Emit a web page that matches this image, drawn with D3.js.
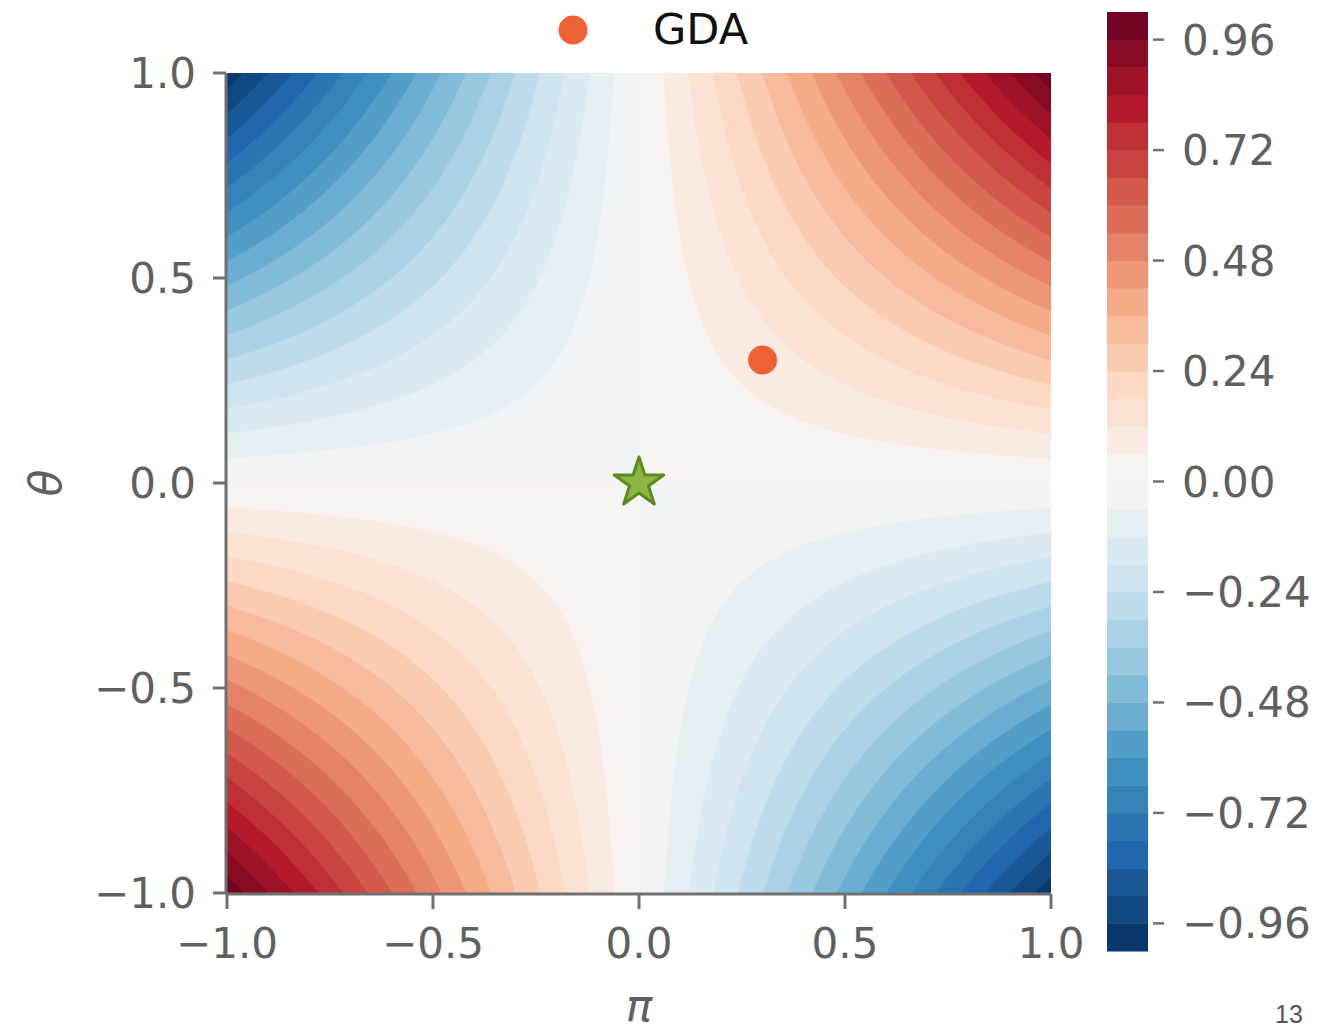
<!DOCTYPE html>
<html>
<head>
<meta charset="utf-8">
<script src="https://cdn.jsdelivr.net/npm/d3@7"></script>
<style>
  html, body { margin: 0; padding: 0; background: #ffffff; }
  svg text { font-family: "DejaVu Sans", sans-serif; }
</style>
</head>
<body>
<svg id="chart" width="1319" height="1030"></svg>
<script>
// ---------------- data ----------------
// contour levels of the surface f(pi, theta) = pi * theta
const levels = [-1.02, -0.96, -0.90, -0.84, -0.78, -0.72, -0.66, -0.60, -0.54, -0.48,
                -0.42, -0.36, -0.30, -0.24, -0.18, -0.12, -0.06, 0.00, 0.06, 0.12,
                0.18, 0.24, 0.30, 0.36, 0.42, 0.48, 0.54, 0.60, 0.66, 0.72,
                0.78, 0.84, 0.90, 0.96, 1.02];
const xTicks = [-1.0, -0.5, 0.0, 0.5, 1.0];
const yTicks = [-1.0, -0.5, 0.0, 0.5, 1.0];
const cbarTicks = [-0.96, -0.72, -0.48, -0.24, 0.00, 0.24, 0.48, 0.72, 0.96];
const gdaPoint = [0.3, 0.3];        // [pi, theta]
const equilibrium = [0.0, 0.0];     // [pi, theta]
const legendLabel = "GDA";
const pageNumber = "13";
// matplotlib RdBu, reversed (RdBu_r)
const rdbuR = ["#053061", "#2166ac", "#4393c3", "#92c5de", "#d1e5f0", "#f7f7f7",
               "#fddbc7", "#f4a582", "#d6604d", "#b2182b", "#67001f"];

// grid of the surface
const N = 301;
const gridPi = d3.range(N).map(i => -1 + 2 * i / (N - 1));
const gridTheta = d3.range(N).map(j => 1 - 2 * j / (N - 1));
const values = new Float64Array(N * N);
for (let j = 0; j < N; j++) for (let i = 0; i < N; i++) values[j * N + i] = gridPi[i] * gridTheta[j];

// ---------------- layout ----------------
const svg = d3.select("#chart");
const X0 = 227, X1 = 1051, Y0 = 73, Y1 = 893;
const x = d3.scaleLinear().domain([-1, 1]).range([X0, X1]);
const y = d3.scaleLinear().domain([-1, 1]).range([Y1, Y0]);
const axisColor = "#707070";
const textColor = "#606060";

const cmap = d3.scaleLinear()
  .domain(d3.range(rdbuR.length).map(k => k / (rdbuR.length - 1)))
  .range(rdbuR)
  .interpolate(d3.interpolateRgb);
const vmin = levels[0], vmax = levels[levels.length - 1];
const bandColor = k => cmap(((levels[k] + levels[k + 1]) / 2 - vmin) / (vmax - vmin));

// ---------------- contours ----------------
svg.append("defs").append("clipPath").attr("id", "plotclip")
  .append("rect").attr("x", X0).attr("y", Y0).attr("width", X1 - X0).attr("height", Y1 - Y0);

const gx = d3.scaleLinear().domain([0.5, N - 0.5]).range([gridPi[0], gridPi[N - 1]]);
const gy = d3.scaleLinear().domain([0.5, N - 0.5]).range([gridTheta[0], gridTheta[N - 1]]);
const proj = d3.geoTransform({
  point: function (px, py) { this.stream.point(x(gx(px)), y(gy(py))); }
});
const path = d3.geoPath(proj);

const thresholds = levels.slice(0, levels.length - 1);
const contours = d3.contours().size([N, N]).thresholds(thresholds)(values);

const cg = svg.append("g").attr("clip-path", "url(#plotclip)");
cg.selectAll("path").data(contours).join("path")
  .attr("d", path)
  .attr("fill", (d, k) => bandColor(k))
  .attr("stroke", (d, k) => bandColor(k))
  .attr("stroke-width", 0.6);

// ---------------- axes ----------------
const ag = svg.append("g");
ag.append("line").attr("x1", X0 - 1).attr("x2", X0 - 1).attr("y1", Y0).attr("y2", Y1 + 1)
  .attr("stroke", axisColor).attr("stroke-width", 3);
ag.append("line").attr("x1", X0 - 1).attr("x2", X1).attr("y1", Y1 + 1).attr("y2", Y1 + 1)
  .attr("stroke", axisColor).attr("stroke-width", 3);

const fmt = v => (v < 0 ? "\u2212" : "") + Math.abs(v).toFixed(1);
ag.selectAll(".xt").data(xTicks).join("line")
  .attr("x1", d => x(d)).attr("x2", d => x(d)).attr("y1", Y1 + 1).attr("y2", Y1 + 16)
  .attr("stroke", axisColor).attr("stroke-width", 3);
ag.selectAll(".xl").data(xTicks).join("text")
  .attr("x", d => x(d)).attr("y", 958).attr("text-anchor", "middle")
  .attr("font-size", 42).attr("fill", textColor).text(fmt);
ag.selectAll(".yt").data(yTicks).join("line")
  .attr("x1", X0 - 14).attr("x2", X0 - 1).attr("y1", d => y(d)).attr("y2", d => y(d))
  .attr("stroke", axisColor).attr("stroke-width", 3);
ag.selectAll(".yl").data(yTicks).join("text")
  .attr("x", 196).attr("y", d => y(d) + 15).attr("text-anchor", "end")
  .attr("font-size", 42).attr("fill", textColor).text(fmt);

svg.append("text").attr("x", (X0 + X1) / 2).attr("y", 1021).attr("text-anchor", "middle")
  .attr("font-size", 44).attr("font-style", "italic").attr("fill", textColor).text("\u03c0");
svg.append("text").attr("transform", `translate(61, ${(Y0 + Y1) / 2}) rotate(-90)`)
  .attr("text-anchor", "middle")
  .attr("font-size", 44).attr("font-style", "italic").attr("fill", textColor).text("\u03b8");

// ---------------- markers ----------------
function starPath(R) {
  const r = R * 0.381966;
  const pts = [];
  for (let k = 0; k < 10; k++) {
    const a = -Math.PI / 2 + k * Math.PI / 5;
    const rad = k % 2 === 0 ? R : r;
    pts.push([rad * Math.cos(a), rad * Math.sin(a)]);
  }
  return "M" + pts.map(p => p[0].toFixed(2) + "," + p[1].toFixed(2)).join("L") + "Z";
}
svg.append("path").attr("d", starPath(26))
  .attr("transform", `translate(${x(equilibrium[0])}, ${y(equilibrium[1])})`)
  .attr("fill", "#8cb543").attr("stroke", "#5c8a1e").attr("stroke-width", 3)
  .attr("stroke-linejoin", "round");
svg.append("circle").attr("cx", x(gdaPoint[0])).attr("cy", y(gdaPoint[1])).attr("r", 14.5)
  .attr("fill", "#ef6236");

// legend
svg.append("circle").attr("cx", 573).attr("cy", 30).attr("r", 14.5).attr("fill", "#ef6236");
svg.append("text").attr("x", 653).attr("y", 44).attr("font-size", 43).attr("fill", "#111")
  .text(legendLabel);

// ---------------- colorbar ----------------
const CB_X = 1107, CB_W = 41, CB_T = 12, CB_B = 951;
const cy = d3.scaleLinear().domain([vmin, vmax]).range([CB_B, CB_T]);
const cbg = svg.append("g");
cbg.selectAll("rect").data(d3.range(levels.length - 1)).join("rect")
  .attr("x", CB_X).attr("width", CB_W)
  .attr("y", k => cy(levels[k + 1]))
  .attr("height", k => cy(levels[k]) - cy(levels[k + 1]) + 0.5)
  .attr("fill", k => bandColor(k));
cbg.selectAll("line").data(cbarTicks).join("line")
  .attr("x1", CB_X + CB_W + 5).attr("x2", CB_X + CB_W + 16)
  .attr("y1", d => cy(d)).attr("y2", d => cy(d))
  .attr("stroke", axisColor).attr("stroke-width", 2.5);
cbg.selectAll("text").data(cbarTicks).join("text")
  .attr("x", 1182).attr("y", d => cy(d) + 15)
  .attr("font-size", 42).attr("fill", textColor)
  .text(d => (d < 0 ? "\u2212" : "") + Math.abs(d).toFixed(2));

// page number
svg.append("text").attr("x", 1275).attr("y", 1023)
  .style("font-family", "'Liberation Sans', Arial, sans-serif")
  .attr("font-size", 25).attr("fill", "#555").text(pageNumber);
</script>
</body>
</html>
